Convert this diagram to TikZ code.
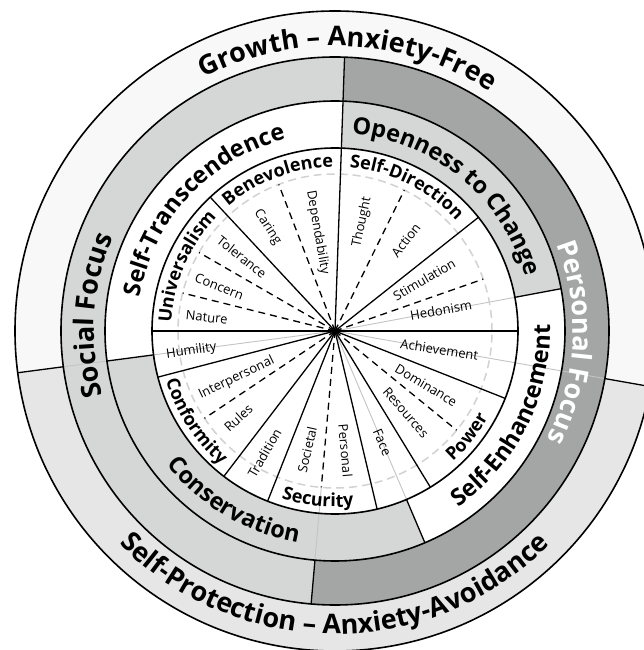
\documentclass[tikz,border=0pt]{standalone}
\usepackage{fontspec}
\setmainfont{Open Sans}
\usetikzlibrary{decorations.text}
\definecolor{ltgray}{HTML}{D5D6D6}
\definecolor{dkgray}{HTML}{A4A5A5}
\definecolor{topband}{HTML}{F8F8F8}
\definecolor{botband}{HTML}{E6E6E6}
\definecolor{faintcol}{HTML}{C4C4C4}
\definecolor{dashcirc}{HTML}{D2D2D2}
\newcommand\ringfont{\bfseries\fontsize{27}{27}\selectfont}
\newcommand\midfont{\bfseries\fontsize{23.5}{23.5}\selectfont}
\newcommand\valfont{\bfseries\fontsize{18}{18}\selectfont}
\newcommand\cwtext[4]{\path[decorate,decoration={text along path,text align=center,text={|#3|#4}}] (#1+85:#2) arc[start angle=#1+85,end angle=#1-85,radius=#2];}
\newcommand\ccwtext[4]{\path[decorate,decoration={text along path,text align=center,text={|#3|#4}}] (#1-85:#2) arc[start angle=#1-85,end angle=#1+85,radius=#2];}
\tikzset{
  sub/.style={font=\fontsize{13}{13}\selectfont, inner sep=0pt},
  faintline/.style={draw=faintcol, line width=0.9pt},
  blkdash/.style={draw=black, line width=1.3pt, dash pattern=on 7pt off 5pt},
  blkline/.style={draw=black, line width=1.3pt},
  ringline/.style={draw=black, line width=1.6pt}
}
\begin{document}
\begin{tikzpicture}[x=1pt,y=1pt,line join=round]
\useasboundingbox (-335,-319) rectangle (308,331);
% outer ring
\fill[topband] (0,0) -- (-10:320) arc[start angle=-10,end angle=187.5,radius=320] -- cycle;
\fill[botband] (0,0) -- (187.5:320) arc[start angle=187.5,end angle=350,radius=320] -- cycle;
% focus ring
\fill[ltgray] (0,0) -- (88:274) arc[start angle=88,end angle=265,radius=274] -- cycle;
\fill[dkgray] (0,0) -- (265:274) arc[start angle=265,end angle=448,radius=274] -- cycle;
% higher-order ring
\fill[white] (0,0) -- (88:230) arc[start angle=88,end angle=187.5,radius=230] -- cycle;
\fill[ltgray] (0,0) -- (187.5:230) arc[start angle=187.5,end angle=293,radius=230] -- cycle;
\fill[white] (0,0) -- (-67:230) arc[start angle=-67,end angle=10.6,radius=230] -- cycle;
\fill[ltgray] (0,0) -- (10.6:230) arc[start angle=10.6,end angle=88,radius=230] -- cycle;
% values disc
\fill[white] (0,0) circle[radius=183];
% faint lines
\draw[faintline] (0,0) -- (187.5:183) (187.5:230) -- (187.5:274);
\draw[faintline] (0,0) -- (10.6:183);
\draw[faintline] (0,0) -- (-10:274);
\draw[faintline] (0,0) -- (-67:183);
\draw[faintline] (265:157) -- (265:230);
% dashed grey circle
\draw[dashcirc, line width=1.5pt, dash pattern=on 8pt off 5pt] (0,0) circle[radius=157];
% dashed sub-value lines
\foreach \a in {166,150,111,63.8,19.3,-39.2,265,213.8} \draw[blkdash] (0,0) -- (\a:157);
% solid value lines
\foreach \a in {38.4,88,133,-21.6,-58.6,-76.7,248.4,232.6,194.6} \draw[blkline] (0,0) -- (\a:183);
\draw[black, line width=2.3pt] (180:183) -- (0:183);
% ring dividers
\foreach \a in {88,10.6,-67,187.5} \draw[blkline] (\a:183) -- (\a:230);
\foreach \a in {88,265} \draw[blkline] (\a:230) -- (\a:274);
\foreach \a in {-10,187.5} \draw[blkline] (\a:274) -- (\a:320);
% circles
\draw[ringline] (0,0) circle[radius=183];
\draw[ringline] (0,0) circle[radius=230];
\draw[ringline] (0,0) circle[radius=274];
\draw[ringline] (0,0) circle[radius=320];
\fill[black] (0,0) circle[radius=2.5];
% sub-value labels
\node[sub, rotate=-6] (nature) at (174:129) {Nature};
\node[sub, rotate=-21] (concern) at (159:124) {Concern};
\node[sub, rotate=-38.5] (tolerance) at (141.5:119) {Tolerance};
\node[sub, rotate=-57] (caring) at (123:124) {Caring};
\node[sub, rotate=-80] (dependability) at (100:100) {Dependability};
\node[sub, rotate=78] (thought) at (76:112) {Thought};
\node[sub, rotate=52] (action) at (52:115) {Action};
\node[sub, rotate=30] (stimulation) at (30:103) {Stimulation};
\node[sub, rotate=10] (hedonism) at (11:108) {Hedonism};
\node[sub, rotate=-9] (achievement) at (-10:106) {Achievement};
\node[sub, rotate=-31] (dominance) at (-30.7:106) {Dominance};
\node[sub, rotate=-49] (resources) at (-49:108) {Resources};
\node[sub, rotate=-67] (face) at (-67:121) {Face};
\node[sub, rotate=-85] (personal) at (-85:120) {Personal};
\node[sub, rotate=77] (societal) at (256.8:122) {Societal};
\node[sub, rotate=60] (tradition) at (240:141) {Tradition};
\node[sub, rotate=42] (rules) at (222:130) {Rules};
\node[sub, rotate=25.6] (interpersonal) at (205.6:109) {Interpersonal};
\node[sub, rotate=8] (humility) at (188:145) {Humility};
% value names
\cwtext{156.6}{164}{\valfont}{Universalism}
\cwtext{110.6}{164}{\valfont}{Benevolence}
\cwtext{63.6}{164}{\valfont}{Self-Direction}
\ccwtext{-38.8}{176}{\valfont}{Power}
\ccwtext{264.2}{176}{\valfont}{Security}
\ccwtext{212.9}{176}{\valfont}{Conformity}
% higher-order values
\cwtext{137.3}{198}{\midfont}{Self-Transcendence}
\cwtext{50.5}{198}{\midfont}{Openness to Change}
\ccwtext{-26.7}{215}{\midfont}{Self-Enhancement}
\ccwtext{239.3}{215}{\midfont}{Conservation}
% focus ring
\cwtext{176.3}{241}{\ringfont}{Social Focus}
\path[decorate,decoration={text along path,text align=center,text color=white,text={|\ringfont|Personal Focus}}] (-2.8+85:238) arc[start angle=-2.8+85,end angle=-2.8-85,radius=238];
% outer ring
\cwtext{87.25}{285}{\ringfont}{Growth – Anxiety-Free}
\ccwtext{269.9}{303}{\ringfont}{Self-Protection – Anxiety-Avoidance}
\end{tikzpicture}
\end{document}
